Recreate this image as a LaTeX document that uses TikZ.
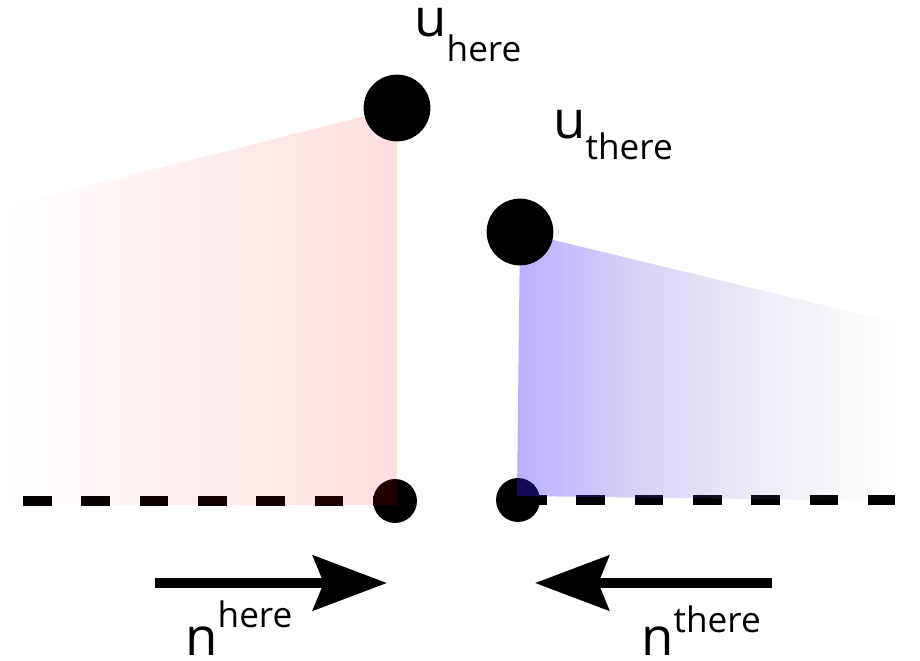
\documentclass[tikz,border=0pt]{standalone}
\usepackage{fontspec}
\setmainfont{Open Sans}
\usepackage{xcolor}
\usetikzlibrary{arrows.meta,fadings}

\newcommand{\idxfont}{\fontsize{20}{21}\selectfont}

\begin{document}
\begin{tikzpicture}[x=0.02cm, y=-0.02cm, >={Stealth[length=42pt, width=31pt, inset=6pt]}]
  % Styles
  \tikzstyle{bigdot} = [circle, fill=black, inner sep=0pt, minimum size=38pt]
  \tikzstyle{smalldot} = [circle, fill=black, inner sep=0pt, minimum size=25pt]
  \tikzstyle{lbl} = [inner sep=0pt, anchor=base west, font=\fontsize{30}{32}\selectfont]
  \tikzstyle{edge} = [line width=5.7pt, dash pattern=on 16.4pt off 16.8pt]
  \tikzstyle{normal} = [->, line width=5.7pt]
  \definecolor{herered}{RGB}{255,0,0}
  \definecolor{thereblue}{RGB}{55,26,255}

  \useasboundingbox (0,0) rectangle (920,660);

  % Bottom points and edges
  \node [smalldot] (nhere) at (395,501) {};
  \node [smalldot] (nthere) at (518,500) {};
  \coordinate (lend) at (23,501);
  \coordinate (rend) at (895,500);
  \draw [edge] (lend) -- (nhere.center);
  \draw [edge] (nthere.center) -- (rend);

  % Top points
  \coordinate (uh) at (397,108);
  \coordinate (ut) at (520,232);

  % Shaded regions
  \fill [herered, fill opacity=0.13, path fading=west]
    (0,208) -- (uh) -- (397,505) -- (0,505) -- cycle;
  \shade [left color=thereblue, right color=black!40, fill opacity=0.35, path fading=east]
    (ut) -- (905,325) -- (905,501) -- (517,496) -- cycle;

  \node [bigdot] (uhere) at (uh) {};
  \node [bigdot] (uthere) at (ut) {};

  % Labels
  \node [lbl] (uherelbl) at (414,36) {u\raisebox{-14.7pt}{\idxfont here}};
  \node [lbl] (utherelbl) at (553,138) {u\raisebox{-12.5pt}{\idxfont there}};
  \node [lbl] (nherelbl) at (185,655) {n\raisebox{15.9pt}{\idxfont here}};
  \node [lbl] (ntherelbl) at (641,655) {n\raisebox{13pt}{\idxfont there}};

  % Normal arrows
  \coordinate (nh0) at (155,583);
  \coordinate (nh1) at (387,583);
  \coordinate (nt0) at (772,583);
  \coordinate (nt1) at (535,583);
  \draw [normal] (nh0) -- (nh1);
  \draw [normal] (nt0) -- (nt1);

\end{tikzpicture}
\end{document}
